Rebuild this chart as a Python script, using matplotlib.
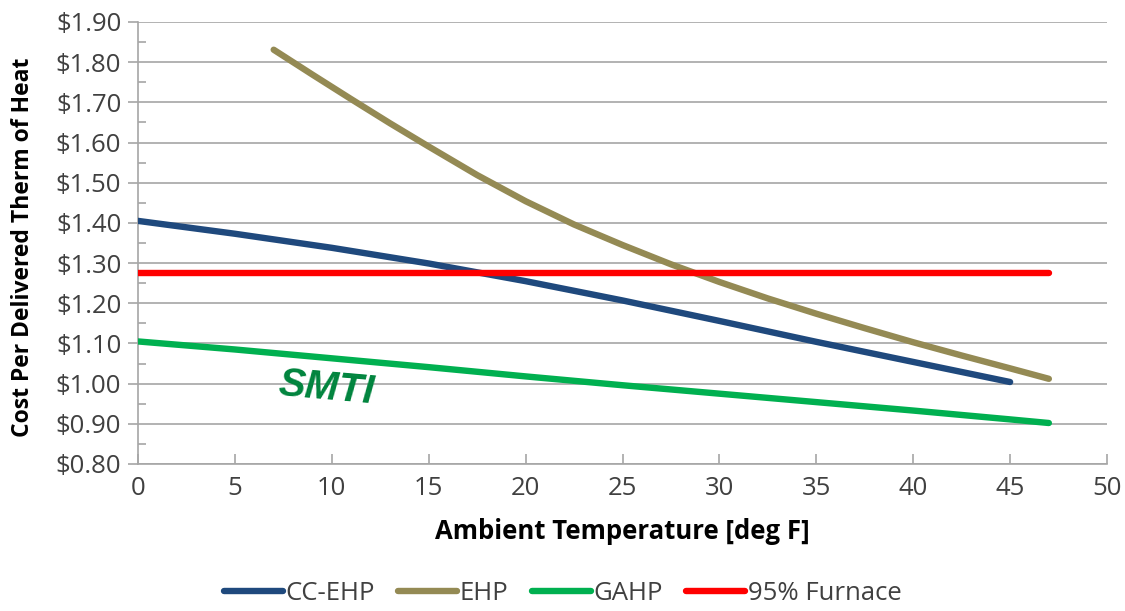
import matplotlib
matplotlib.use("Agg")
import matplotlib.pyplot as plt
from matplotlib.ticker import MultipleLocator, FuncFormatter

plt.rcParams['font.family'] = ['Open Sans', 'DejaVu Sans']

cc_x = [0, 5, 10, 15, 20, 25, 30, 35, 40, 45]
cc_y = [1.405, 1.373, 1.338, 1.299, 1.255, 1.207, 1.156, 1.104, 1.054, 1.004]

ehp_x = [7, 9, 11, 13, 15, 17.5, 20, 22.5, 25, 27.5, 30, 32.5, 35, 37.5, 40, 42.5, 45, 47]
ehp_y = [1.831, 1.769, 1.708, 1.648, 1.590, 1.519, 1.454, 1.396, 1.345, 1.297, 1.253,
         1.212, 1.174, 1.138, 1.103, 1.070, 1.038, 1.012]

gahp_x = [0, 5, 10, 15, 20, 25, 30, 35, 40, 45, 47]
gahp_y = [1.105, 1.085, 1.063, 1.041, 1.018, 0.996, 0.975, 0.954, 0.933, 0.911, 0.902]

furn_x = [0, 47]
furn_y = [1.275, 1.275]

fig = plt.figure(figsize=(11.25, 6.11), dpi=100)
ax = fig.add_axes([0.1227, 0.2406, 0.8613, 0.7234])

lw = 4.6
ax.plot(cc_x, cc_y, color='#1F497D', lw=lw, solid_capstyle='round', solid_joinstyle='round', label='CC-EHP', zorder=3)
ax.plot(ehp_x, ehp_y, color='#948A54', lw=lw, solid_capstyle='round', solid_joinstyle='round', label='EHP', zorder=3)
ax.plot(gahp_x, gahp_y, color='#00B050', lw=lw, solid_capstyle='round', solid_joinstyle='round', label='GAHP', zorder=3)
ax.plot(furn_x, furn_y, color='#FF0000', lw=lw, solid_capstyle='round', label='95% Furnace', zorder=3)

ax.set_xlim(0, 50)
ax.set_ylim(0.80, 1.90)
ax.xaxis.set_major_locator(MultipleLocator(5))
ax.yaxis.set_major_locator(MultipleLocator(0.1))
ax.yaxis.set_minor_locator(MultipleLocator(0.05))
ax.yaxis.set_major_formatter(FuncFormatter(lambda v, p: f"${v:.2f}"))
ax.grid(axis='y', which='major', color='#A6A6A6', lw=1.2, zorder=0)
for s in ['top', 'right']:
    ax.spines[s].set_visible(False)
for s in ['left', 'bottom']:
    ax.spines[s].set_color('#A6A6A6')
    ax.spines[s].set_linewidth(1.2)
ax.tick_params(axis='both', which='major', colors='#A6A6A6', labelcolor='#404040',
               labelsize=18.5, length=7, width=1.2)
ax.tick_params(axis='x', direction='in', pad=9)
ax.tick_params(axis='y', which='major', direction='out', pad=5)
ax.tick_params(axis='y', which='minor', direction='in', length=6, colors='#A6A6A6', width=1.2)

ax.set_xlabel('Ambient Temperature [deg F]', fontsize=18.5, fontweight='bold', color='black', labelpad=12)
ax.set_ylabel('Cost Per Delivered Therm of Heat', fontsize=16.5, fontweight='bold', color='black')
ax.yaxis.set_label_coords(-0.106, 0.49)

ax.text(9.7, 0.988, 'SMTI', fontsize=29, fontweight='bold', fontstyle='italic',
        color='#00843D', rotation=-5, ha='center', va='center', family=['Liberation Sans', 'DejaVu Sans'])

leg = fig.legend(loc='lower center', bbox_to_anchor=(0.5, -0.03), ncol=4, frameon=False,
                 fontsize=18.5, handlelength=2.3, columnspacing=0.9, handletextpad=0.1)
for t in leg.get_texts():
    t.set_color('#404040')

fig.savefig('out.png', dpi=100)
